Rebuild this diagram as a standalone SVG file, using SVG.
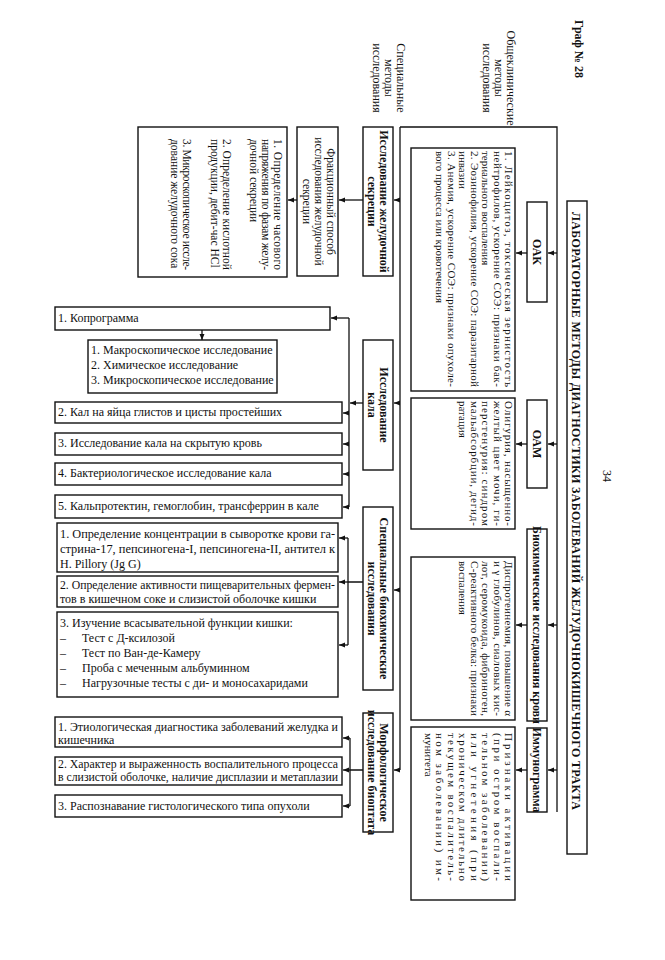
<svg xmlns="http://www.w3.org/2000/svg" width="665" height="960" viewBox="0 0 665 960">
<style>
.bx{fill:none;stroke:#111;stroke-width:1.4}
.ln{fill:none;stroke:#111;stroke-width:1.3}
.t{font-family:"Liberation Serif","Times New Roman",serif;font-size:12px;fill:#111}
.s{font-size:11px}
.m{font-size:11.5px}
.b{font-weight:bold}
.c{text-anchor:middle}
</style>
<defs>
<marker id="ar" markerUnits="userSpaceOnUse" markerWidth="6" markerHeight="6" refX="6" refY="3" orient="auto">
<path d="M0,0.5 L6,3 L0,5.5 z" fill="#111"/>
</marker>
</defs>
<rect width="665" height="960" fill="#fff"/>

<g id="connectors">
<path class="ln" d="M400,127 H557 V812"/>
<path class="ln" d="M400,127 V770"/>
<path class="ln" marker-end="url(#ar)" d="M557,253 H548"/>
<path class="ln" marker-end="url(#ar)" d="M557,444 H548"/>
<path class="ln" marker-end="url(#ar)" d="M557,625 H548"/>
<path class="ln" marker-end="url(#ar)" d="M557,770 H548"/>
<path class="ln" marker-end="url(#ar)" d="M527,253 H516"/>
<path class="ln" marker-end="url(#ar)" d="M527,444 H516"/>
<path class="ln" marker-end="url(#ar)" d="M527,625 H516"/>
<path class="ln" marker-end="url(#ar)" d="M527,770 H516"/>
<path class="ln" marker-end="url(#ar)" d="M400,200 H394"/>
<path class="ln" marker-end="url(#ar)" d="M400,403 H394"/>
<path class="ln" marker-end="url(#ar)" d="M400,590 H394"/>
<path class="ln" marker-end="url(#ar)" d="M400,770 H394"/>
<path class="ln" marker-end="url(#ar)" d="M363,200 H339"/>
<path class="ln" marker-end="url(#ar)" d="M297,200 H288"/>
<path class="ln" marker-end="url(#ar)" d="M363,403 H350"/>
<path class="ln" d="M349,318 V507"/>
<path class="ln" marker-end="url(#ar)" d="M349,318 H331"/>
<path class="ln" marker-end="url(#ar)" d="M349,413 H343"/>
<path class="ln" marker-end="url(#ar)" d="M349,444 H343"/>
<path class="ln" marker-end="url(#ar)" d="M349,474 H343"/>
<path class="ln" marker-end="url(#ar)" d="M349,507 H343"/>
<path class="ln" marker-end="url(#ar)" d="M202,330 V340"/>
<path class="ln" d="M363,582 H348 M348,538 V645"/>
<path class="ln" marker-end="url(#ar)" d="M348,538 H339"/>
<path class="ln" marker-end="url(#ar)" d="M348,582 H339"/>
<path class="ln" marker-end="url(#ar)" d="M348,645 H339"/>
<path class="ln" d="M363,770 H350 M350,738 V806"/>
<path class="ln" marker-end="url(#ar)" d="M350,738 H343"/>
<path class="ln" marker-end="url(#ar)" d="M350,770 H343"/>
<path class="ln" marker-end="url(#ar)" d="M350,806 H343"/>
</g>

<g id="graf" transform="matrix(0,1,-1,0,665,0)">
<text class="t b" x="20" y="90" font-size="13">Граф № 28</text>
</g>
<g id="page-number" transform="matrix(0,1,-1,0,665,0)">
<text class="t" x="470" y="62" font-size="11">34</text>
</g>
<g id="label-general" transform="matrix(0,1,-1,0,665,0)">
<text class="t c" x="78" y="158" font-size="10.5">Общеклинические</text>
<text class="t c" x="78" y="170" font-size="10.5">методы</text>
<text class="t c" x="78" y="182" font-size="10.5">исследования</text>
</g>
<g id="label-special" transform="matrix(0,1,-1,0,665,0)">
<text class="t c" x="78" y="268" font-size="10.5">Специальные</text>
<text class="t c" x="78" y="280" font-size="10.5">методы</text>
<text class="t c" x="78" y="292" font-size="10.5">исследования</text>
</g>

<g id="title" transform="matrix(0,1,-1,0,665,0)">
<rect class="bx" x="201" y="78" width="653" height="20"/>
<text class="t b" x="212" y="93" textLength="598" lengthAdjust="spacing">ЛАБОРАТОРНЫЕ МЕТОДЫ ДИАГНОСТИКИ ЗАБОЛЕВАНИЙ ЖЕЛУДОЧНОКИШЕЧНОГО ТРАКТА</text>
</g>

<g id="oak" transform="matrix(0,1,-1,0,665,0)">
<rect class="bx" x="202" y="118" width="100" height="20"/>
<text class="t b c" x="252" y="132">ОАК</text>
</g>
<g id="oam" transform="matrix(0,1,-1,0,665,0)">
<rect class="bx" x="400" y="118" width="88" height="20"/>
<text class="t b c" x="444" y="132">ОАМ</text>
</g>
<g id="biochem-blood" transform="matrix(0,1,-1,0,665,0)">
<rect class="bx" x="529" y="118" width="192" height="20"/>
<text class="t b c" x="625" y="132" font-size="11.5">Биохимические исследования крови</text>
</g>
<g id="immuno" transform="matrix(0,1,-1,0,665,0)">
<rect class="bx" x="728" y="118" width="84" height="20"/>
<text class="t b c" x="770" y="132" font-size="11.5">Иммунограмма</text>
</g>

<g id="oak-detail" transform="matrix(0,1,-1,0,665,0)">
<rect class="bx" x="148" y="150" width="243" height="104"/>
<text class="t s" x="151" y="160" textLength="236" lengthAdjust="spacing">1. Лейкоцитоз, токсическая зернистость</text>
<text class="t s" x="151" y="171.5" textLength="236" lengthAdjust="spacing">нейтрофилов, ускорение СОЭ: признаки бак-</text>
<text class="t s" x="151" y="183">териального воспаления</text>
<text class="t s" x="151" y="194.5" textLength="236" lengthAdjust="spacing">2. Эозинофилия, ускорение СОЭ: паразитарной</text>
<text class="t s" x="151" y="206">инвазии</text>
<text class="t s" x="151" y="217.5" textLength="236" lengthAdjust="spacing">3. Анемия, ускорение СОЭ: признаки опухоле-</text>
<text class="t s" x="151" y="229">вого процесса или кровотечения</text>
</g>
<g id="oam-detail" transform="matrix(0,1,-1,0,665,0)">
<rect class="bx" x="398" y="150" width="131" height="104"/>
<text class="t s" x="401" y="160" textLength="125" lengthAdjust="spacing">Олигурия, насыщенно-</text>
<text class="t s" x="401" y="171.5" textLength="125" lengthAdjust="spacing">желтый цвет мочи, ги-</text>
<text class="t s" x="401" y="183" textLength="125" lengthAdjust="spacing">перстенурия: синдром</text>
<text class="t s" x="401" y="194.5" textLength="125" lengthAdjust="spacing">мальабсорбции, дегид-</text>
<text class="t s" x="401" y="206">ратация</text>
</g>
<g id="biochem-detail" transform="matrix(0,1,-1,0,665,0)">
<rect class="bx" x="557" y="150" width="163" height="104"/>
<text class="t s" x="561" y="160" textLength="155" lengthAdjust="spacing">Диспротеинемия, повышение α</text>
<text class="t s" x="561" y="171.5" textLength="155" lengthAdjust="spacing">и γ глобулинов, сиаловых кис-</text>
<text class="t s" x="561" y="183" textLength="155" lengthAdjust="spacing">лот, серомукоида, фибриноген,</text>
<text class="t s" x="561" y="194.5" textLength="155" lengthAdjust="spacing">С-реактивного белка: признаки</text>
<text class="t s" x="561" y="206">воспаления</text>
</g>
<g id="immuno-detail" transform="matrix(0,1,-1,0,665,0)">
<rect class="bx" x="727" y="150" width="173" height="104"/>
<text class="t s" x="733" y="160" textLength="148" lengthAdjust="spacing">Признаки активации</text>
<text class="t s" x="733" y="171.5" textLength="148" lengthAdjust="spacing">(при остром воспали-</text>
<text class="t s" x="733" y="183" textLength="148" lengthAdjust="spacing">тельном заболевании)</text>
<text class="t s" x="733" y="194.5" textLength="148" lengthAdjust="spacing">или угнетения (при</text>
<text class="t s" x="733" y="206" textLength="148" lengthAdjust="spacing">хроническом длительно</text>
<text class="t s" x="733" y="217.5" textLength="148" lengthAdjust="spacing">текущем воспалитель-</text>
<text class="t s" x="733" y="229" textLength="148" lengthAdjust="spacing">ном заболевании) им-</text>
<text class="t s" x="733" y="240.5">мунитета</text>
</g>

<g id="gastric" transform="matrix(0,1,-1,0,665,0)">
<rect class="bx" x="127" y="272" width="149" height="30"/>
<text class="t b c" x="201.5" y="285" font-size="11">Исследование желудочной</text>
<text class="t b c" x="201.5" y="297.5" font-size="11">секреции</text>
</g>
<g id="stool" transform="matrix(0,1,-1,0,665,0)">
<rect class="bx" x="340" y="272" width="130" height="30"/>
<text class="t b c" x="405" y="285" font-size="11">Исследование</text>
<text class="t b c" x="405" y="297.5" font-size="11">кала</text>
</g>
<g id="spec-biochem" transform="matrix(0,1,-1,0,665,0)">
<rect class="bx" x="507" y="272" width="183" height="30"/>
<text class="t b c" x="598.5" y="285" font-size="11">Специальные биохимические</text>
<text class="t b c" x="598.5" y="297.5" font-size="11">исследования</text>
</g>
<g id="morph" transform="matrix(0,1,-1,0,665,0)">
<rect class="bx" x="713" y="272" width="119" height="30"/>
<text class="t b c" x="772.5" y="285" font-size="11">Морфологическое</text>
<text class="t b c" x="772.5" y="297.5" font-size="10.5">исследование биоптата</text>
</g>
<g id="fraction" transform="matrix(0,1,-1,0,665,0)">
<rect class="bx" x="127" y="327" width="149" height="41"/>
<text class="t m c" x="201.5" y="338">Фракционный способ</text>
<text class="t m c" x="201.5" y="350">исследования желудочной</text>
<text class="t m c" x="201.5" y="362">секреции</text>
</g>
<g id="gastric-detail" transform="matrix(0,1,-1,0,665,0)">
<rect class="bx" x="127" y="378" width="150" height="149"/>
<text class="t m" x="139" y="391" textLength="131" lengthAdjust="spacing">1. Определение часового</text>
<text class="t m" x="139" y="403" textLength="131" lengthAdjust="spacing">напряжения по фазам желу-</text>
<text class="t m" x="139" y="415">дочной секреции</text>
<text class="t m" x="139" y="442" textLength="131" lengthAdjust="spacing">2. Определение кислотной</text>
<text class="t m" x="139" y="454">продукции, дебит-час HCl</text>
<text class="t m" x="139" y="482" textLength="131" lengthAdjust="spacing">3. Микроскопическое иссле-</text>
<text class="t m" x="139" y="494">дование желудочного сока</text>
</g>

<g id="copro">
<rect class="bx" x="55" y="307" width="275" height="23"/>
<text class="t" x="58" y="322">1. Копрограмма</text>
</g>
<g id="copro-sub">
<rect class="bx" x="88" y="340" width="189" height="53"/>
<text class="t" x="91" y="354">1. Макроскопическое исследование</text>
<text class="t" x="91" y="369">2. Химическое исследование</text>
<text class="t" x="91" y="384">3. Микроскопическое исследование</text>
</g>
<g id="stool-2">
<rect class="bx" x="55" y="402" width="287" height="21"/>
<text class="t" x="58" y="416">2. Кал на яйца глистов и цисты простейших</text>
</g>
<g id="stool-3">
<rect class="bx" x="55" y="433" width="287" height="22"/>
<text class="t" x="58" y="447">3. Исследование кала на скрытую кровь</text>
</g>
<g id="stool-4">
<rect class="bx" x="55" y="463" width="287" height="22"/>
<text class="t" x="58" y="477">4. Бактериологическое исследование кала</text>
</g>
<g id="stool-5">
<rect class="bx" x="55" y="495" width="287" height="23"/>
<text class="t" x="58" y="510">5. Кальпротектин, гемоглобин, трансферрин в кале</text>
</g>

<g id="sb-1">
<rect class="bx" x="57" y="523" width="281" height="49"/>
<text class="t" x="60" y="538" textLength="275" lengthAdjust="spacingAndGlyphs">1. Определение концентрации в сыворотке крови га-</text>
<text class="t" x="60" y="553" textLength="275" lengthAdjust="spacingAndGlyphs">стрина-17, пепсиногена-I, пепсиногена-II, антител к</text>
<text class="t" x="60" y="568">H. Pillory (Jg G)</text>
</g>
<g id="sb-2">
<rect class="bx" x="57" y="576" width="281" height="31"/>
<text class="t" x="60" y="589" textLength="275" lengthAdjust="spacingAndGlyphs">2. Определение активности пищеварительных фермен-</text>
<text class="t" x="60" y="603">тов в кишечном соке и слизистой оболочке кишки</text>
</g>
<g id="sb-3">
<rect class="bx" x="57" y="612" width="281" height="85"/>
<text class="t" x="60" y="627">3. Изучение всасывательной функции кишки:</text>
<text class="t" x="60" y="642">–</text><text class="t" x="82" y="642">Тест с Д-ксилозой</text>
<text class="t" x="60" y="657">–</text><text class="t" x="82" y="657">Тест по Ван-де-Камеру</text>
<text class="t" x="60" y="672">–</text><text class="t" x="82" y="672">Проба с меченным альбуминном</text>
<text class="t" x="60" y="687">–</text><text class="t" x="82" y="687">Нагрузочные тесты с ди- и моносахаридами</text>
</g>

<g id="morph-1">
<rect class="bx" x="55" y="717" width="287" height="30"/>
<text class="t" x="58" y="731" textLength="280" lengthAdjust="spacingAndGlyphs">1. Этиологическая диагностика заболеваний  желудка и</text>
<text class="t" x="58" y="744">кишечника</text>
</g>
<g id="morph-2">
<rect class="bx" x="55" y="757" width="287" height="28"/>
<text class="t" x="58" y="768" textLength="280" lengthAdjust="spacingAndGlyphs">2. Характер и выраженность воспалительного процесса</text>
<text class="t" x="58" y="781" textLength="280" lengthAdjust="spacingAndGlyphs">в слизистой оболочке, наличие дисплазии и метаплазии</text>
</g>
<g id="morph-3">
<rect class="bx" x="55" y="795" width="287" height="22"/>
<text class="t" x="58" y="810">3. Распознавание  гистологического типа опухоли</text>
</g>
</svg>
